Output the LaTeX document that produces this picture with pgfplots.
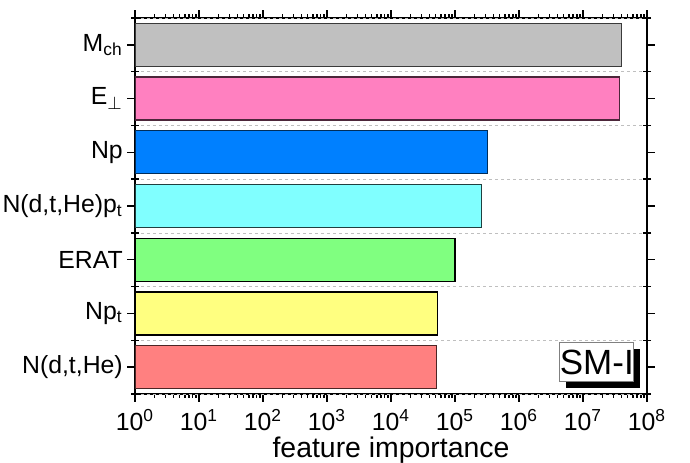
\documentclass[border=0pt]{standalone}
\usepackage{pgfplots}
\pgfplotsset{compat=1.18}
\usepackage{fontspec}
\setmainfont{Liberation Sans}
\usetikzlibrary{shadows}
\definecolor{cgray}{RGB}{192,192,192}
\definecolor{cpink}{RGB}{255,128,192}
\definecolor{cblue}{RGB}{0,128,255}
\definecolor{ccyan}{RGB}{128,255,255}
\definecolor{cgreen}{RGB}{128,255,128}
\definecolor{cyellow}{RGB}{255,255,128}
\definecolor{cred}{RGB}{255,128,128}
\begin{document}
\begin{tikzpicture}
\begin{axis}[
  scale only axis, width=256pt, height=188pt,
  xmode=log, xmin=1, xmax=1e8,
  ymin=-0.5, ymax=6.5,
  xtick={1,10,100,1000,10000,100000,1000000,10000000,100000000},
  xticklabels={10\textsuperscript{0},10\textsuperscript{1},10\textsuperscript{2},10\textsuperscript{3},10\textsuperscript{4},10\textsuperscript{5},10\textsuperscript{6},10\textsuperscript{7},10\textsuperscript{8}},
  ytick={0,1,2,3,4,5,6},
  yticklabels={{N(d,t,He)},{Np\textsubscript{t}},{ERAT},{N(d,t,He)p\textsubscript{t}},{Np},{E\textsubscript{$\perp$}},{M\textsubscript{ch}}},
  xtick align=outside, ytick align=inside,
  major tick length=3.8pt, minor tick length=1.8pt,
  axis line style={line width=0.7pt},
  every tick/.style={black, line width=0.7pt},
  extra y ticks={-0.5,0.5,1.5,2.5,3.5,4.5,5.5,6.5},
  extra y tick labels={},
  extra y tick style={ytick align=center, major tick length=4pt, grid=major,
     major grid style={gray!50, line width=0.35pt, dash pattern=on 1.5pt off 1.5pt}},
  tick label style={font=\fontsize{12.4}{14}\selectfont},
  xticklabel style={anchor=base, yshift=-14.5pt},
  yticklabel style={xshift=1.2pt},
  xlabel={feature importance},
  xlabel style={font=\fontsize{14.2}{16}\selectfont, anchor=base, at={(axis description cs:0.5,0)}, yshift=-31.5pt},
  xbar, bar width=0.8, bar shift=0pt,
]
\addplot[fill=cred, draw=cred!30!black, line width=0.6pt] coordinates {(5.2e4,0)};
\addplot[fill=cyellow, draw=black, line width=0.6pt] coordinates {(5.3e4,1)};
\addplot[fill=cgreen, draw=black, line width=0.6pt] coordinates {(1.0e5,2)};
\addplot[fill=ccyan, draw=ccyan!25!black, line width=0.6pt] coordinates {(2.6e5,3)};
\addplot[fill=cblue, draw=cblue!35!black, line width=0.6pt] coordinates {(3.2e5,4)};
\addplot[fill=cpink, draw=cpink!30!black, line width=0.6pt] coordinates {(3.7e7,5)};
\addplot[fill=cgray, draw=cgray!30!black, line width=0.6pt] coordinates {(4.0e7,6)};
\node[draw=gray, line width=0.5pt, fill=white, inner sep=0pt, minimum width=36pt, minimum height=19.5pt,
  font=\fontsize{17.5}{17.5}\selectfont,
  drop shadow={shadow xshift=3pt, shadow yshift=-3pt, fill=black, opacity=1}]
  at (rel axis cs:0.902,0.084) {SM-I};
\end{axis}
\pgfresetboundingbox
\path (-67.5pt,-34pt) rectangle (277.5pt,197pt);
\end{tikzpicture}
\end{document}
